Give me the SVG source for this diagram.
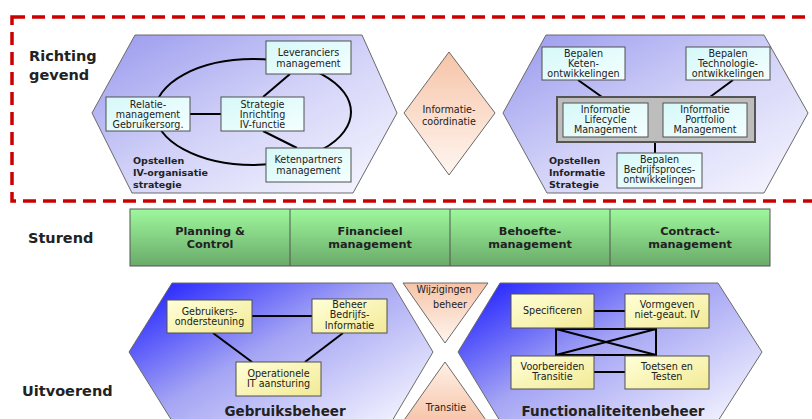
<svg xmlns="http://www.w3.org/2000/svg" width="812" height="419" viewBox="0 0 812 419">
<defs>
<linearGradient id="hexTop" x1="0" y1="0" x2="1" y2="1"><stop offset="0" stop-color="#9898ee"/><stop offset="0.5" stop-color="#d2d2f8"/><stop offset="1" stop-color="#f8f8ff"/></linearGradient>
<linearGradient id="hexBot" x1="0" y1="0.1" x2="1" y2="0.9"><stop offset="0" stop-color="#2222ff"/><stop offset="0.45" stop-color="#a4a4f4"/><stop offset="1" stop-color="#f4f4ff"/></linearGradient>
<linearGradient id="cyan" x1="0" y1="0" x2="1" y2="1"><stop offset="0" stop-color="#d6f8f8"/><stop offset="1" stop-color="#f4ffff"/></linearGradient>
<linearGradient id="yellow" x1="0" y1="0" x2="1" y2="1"><stop offset="0" stop-color="#ffffd8"/><stop offset="1" stop-color="#f2ea96"/></linearGradient>
<linearGradient id="green" x1="0" y1="0" x2="0" y2="1"><stop offset="0" stop-color="#9ef89c"/><stop offset="1" stop-color="#6aaa6a"/></linearGradient>
<linearGradient id="peach" x1="0" y1="0" x2="0" y2="1"><stop offset="0" stop-color="#f6c4a8"/><stop offset="1" stop-color="#fff6f0"/></linearGradient>
<linearGradient id="peachUp" x1="0" y1="1" x2="0" y2="0"><stop offset="0" stop-color="#f6c4a8"/><stop offset="1" stop-color="#fff0e6"/></linearGradient>
</defs>
<style>
.hex{stroke:#6a6a6a;stroke-width:1}
.bc{fill:url(#cyan);stroke:#505050;stroke-width:1}
.by{fill:url(#yellow);stroke:#505050;stroke-width:1}
.t{font-family:"DejaVu Sans","Liberation Sans",sans-serif;font-size:9.6px;fill:#222;text-anchor:middle}
.lb{font-family:"DejaVu Sans","Liberation Sans",sans-serif;font-weight:bold;fill:#222}
.side{font-size:14.5px}
.gt{font-family:"DejaVu Sans","Liberation Sans",sans-serif;font-weight:bold;font-size:11.3px;fill:#222;text-anchor:middle}
.ln{stroke:#000;stroke-width:2;fill:none}
</style>
<rect x="12" y="17" width="840" height="184" fill="none" stroke="#cc0000" stroke-width="3.5" stroke-dasharray="13 7"/>

<g id="labels">
<text class="lb side" x="29" y="61">Richting</text>
<text class="lb side" x="29" y="80">gevend</text>
<text class="lb side" x="28" y="243">Sturend</text>
<text class="lb side" x="22" y="396">Uitvoerend</text>
</g>

<g id="hex-iv-org">
<polygon class="hex" fill="url(#hexTop)" points="92,113 135,35 362,35 397,113 353,193 132,193"/>
<text class="lb" font-size="9.5" x="133" y="164">Opstellen</text>
<text class="lb" font-size="9.5" x="133" y="176">IV-organisatie</text>
<text class="lb" font-size="9.5" x="133" y="188">strategie</text>
</g>
<g id="hex-info-strat">
<polygon class="hex" fill="url(#hexTop)" points="503,113 546,35 764,35 808,113 764,193 547,193"/>
<text class="lb" font-size="9.5" x="549" y="164">Opstellen</text>
<text class="lb" font-size="9.5" x="549" y="176">Informatie</text>
<text class="lb" font-size="9.5" x="549" y="188">Strategie</text>
</g>
<g id="hex-gebruiksbeheer">
<polygon class="hex" fill="url(#hexBot)" points="129,352 172,283 392,283 433,352 392,421 172,421"/>
<text class="lb" font-size="13.5" x="285" y="416" text-anchor="middle">Gebruiksbeheer</text>
</g>
<g id="hex-functionaliteitenbeheer">
<polygon class="hex" fill="url(#hexBot)" points="458,352 500,283 718,283 762,352 718,421 500,421"/>
<text class="lb" font-size="13.5" x="613" y="416" text-anchor="middle">Functionaliteitenbeheer</text>
</g>

<g id="connectors">
<ellipse class="ln" cx="253" cy="112" rx="98" ry="53"/>
<line class="ln" x1="190" y1="114" x2="221" y2="114"/>
<line class="ln" x1="263" y1="97" x2="290" y2="74"/>
<line class="ln" x1="263" y1="131" x2="297" y2="148"/>
<line class="ln" x1="578" y1="80" x2="602" y2="97"/>
<line class="ln" x1="733" y1="80" x2="710" y2="97"/>
<line class="ln" x1="655" y1="142" x2="655" y2="153"/>
<line class="ln" x1="252" y1="316" x2="312" y2="316"/>
<line class="ln" x1="213" y1="333" x2="252" y2="362"/>
<line class="ln" x1="343" y1="333" x2="305" y2="362"/>
<line class="ln" x1="594" y1="311" x2="625" y2="311"/>
<line class="ln" x1="594" y1="372" x2="625" y2="372"/>
<path class="ln" d="M556,329 H656 V355 H556 Z M556,329 L656,355 M656,329 L556,355"/>
</g>

<g id="leveranciers">
<rect class="bc" x="266" y="41" width="85" height="33"/>
<text class="t" x="308.5" y="56">Leveranciers</text>
<text class="t" x="308.5" y="67">management</text>
</g>
<g id="relatie">
<rect class="bc" x="106" y="97" width="84" height="34"/>
<text class="t" x="148" y="108">Relatie-</text>
<text class="t" x="148" y="118">management</text>
<text class="t" x="148" y="128">Gebruikersorg.</text>
</g>
<g id="strategie">
<rect class="bc" x="221" y="97" width="83" height="34"/>
<text class="t" x="262.5" y="108">Strategie</text>
<text class="t" x="262.5" y="118">Inrichting</text>
<text class="t" x="262.5" y="128">IV-functie</text>
</g>
<g id="ketenpartners">
<rect class="bc" x="266" y="148" width="85" height="34"/>
<text class="t" x="308.5" y="163">Ketenpartners</text>
<text class="t" x="308.5" y="174">management</text>
</g>

<g id="informatiecoordinatie">
<polygon points="404,113 449,52 495,113 449,175" fill="url(#peach)" stroke="#6a6a6a" stroke-width="1"/>
<text class="t" font-size="11.5" x="449" y="113">Informatie-</text>
<text class="t" font-size="11.5" x="449" y="125">coördinatie</text>
</g>

<g id="keten">
<rect class="bc" x="542" y="47" width="83" height="33"/>
<text class="t" x="583.5" y="57">Bepalen</text>
<text class="t" x="583.5" y="67">Keten-</text>
<text class="t" x="583.5" y="77">ontwikkelingen</text>
</g>
<g id="technologie">
<rect class="bc" x="686" y="47" width="84" height="33"/>
<text class="t" x="728" y="57">Bepalen</text>
<text class="t" x="728" y="67">Technologie-</text>
<text class="t" x="728" y="77">ontwikkelingen</text>
</g>
<g id="info-management">
<rect x="557" y="97" width="198" height="45" fill="#bdbdbd" stroke="#555" stroke-width="2"/>
</g>
<g id="lifecycle">
<rect class="bc" x="563" y="103" width="85" height="34"/>
<text class="t" x="605.5" y="113">Informatie</text>
<text class="t" x="605.5" y="123">Lifecycle</text>
<text class="t" x="605.5" y="133">Management</text>
</g>
<g id="portfolio">
<rect class="bc" x="663" y="103" width="84" height="34"/>
<text class="t" x="705" y="113">Informatie</text>
<text class="t" x="705" y="123">Portfolio</text>
<text class="t" x="705" y="133">Management</text>
</g>
<g id="bedrijfsproces">
<rect class="bc" x="617" y="153" width="85" height="35"/>
<text class="t" x="659.5" y="163">Bepalen</text>
<text class="t" x="659.5" y="173">Bedrijfsproces-</text>
<text class="t" x="659.5" y="183">ontwikkelingen</text>
</g>

<g id="sturend-bar">
<rect x="130" y="209" width="640" height="57" fill="url(#green)" stroke="#555" stroke-width="1"/>
<line x1="290" y1="209" x2="290" y2="266" stroke="#555"/>
<line x1="450" y1="209" x2="450" y2="266" stroke="#555"/>
<line x1="610" y1="209" x2="610" y2="266" stroke="#555"/>
</g>
<g id="planning"><text class="gt" x="210" y="235">Planning &amp;</text><text class="gt" x="210" y="248">Control</text></g>
<g id="financieel"><text class="gt" x="370" y="235">Financieel</text><text class="gt" x="370" y="248">management</text></g>
<g id="behoefte"><text class="gt" x="530" y="235">Behoefte-</text><text class="gt" x="530" y="248">management</text></g>
<g id="contract"><text class="gt" x="690" y="235">Contract-</text><text class="gt" x="690" y="248">management</text></g>

<g id="wijzigingen">
<polygon points="403,283 488,283 445,343" fill="url(#peach)" stroke="#6a6a6a" stroke-width="1"/>
<text class="t" x="444" y="293">Wijzigingen</text>
<text class="t" x="450" y="308">beheer</text>
</g>
<g id="transitie">
<polygon points="445,362 488,423 402,423" fill="url(#peachUp)" stroke="#6a6a6a" stroke-width="1"/>
<text class="t" x="446" y="411">Transitie</text>
</g>

<g id="gebruikers">
<rect class="by" x="167" y="300" width="85" height="33"/>
<text class="t" x="209.5" y="315">Gebruikers-</text>
<text class="t" x="209.5" y="325">ondersteuning</text>
</g>
<g id="beheer-bedrijfs">
<rect class="by" x="312" y="299" width="75" height="34"/>
<text class="t" x="349.5" y="308">Beheer</text>
<text class="t" x="349.5" y="318">Bedrijfs-</text>
<text class="t" x="349.5" y="329">Informatie</text>
</g>
<g id="operationele">
<rect class="by" x="236" y="362" width="85" height="34"/>
<text class="t" x="278.5" y="377">Operationele</text>
<text class="t" x="278.5" y="387">IT aansturing</text>
</g>
<g id="specificeren">
<rect class="by" x="511" y="294" width="83" height="34"/>
<text class="t" x="552.5" y="314">Specificeren</text>
</g>
<g id="vormgeven">
<rect class="by" x="625" y="294" width="84" height="34"/>
<text class="t" x="667" y="308">Vormgeven</text>
<text class="t" x="667" y="318">niet-geaut. IV</text>
</g>
<g id="voorbereiden">
<rect class="by" x="511" y="356" width="83" height="33"/>
<text class="t" x="552.5" y="370">Voorbereiden</text>
<text class="t" x="552.5" y="380">Transitie</text>
</g>
<g id="toetsen">
<rect class="by" x="625" y="356" width="84" height="33"/>
<text class="t" x="667" y="370">Toetsen en</text>
<text class="t" x="667" y="380">Testen</text>
</g>
</svg>
